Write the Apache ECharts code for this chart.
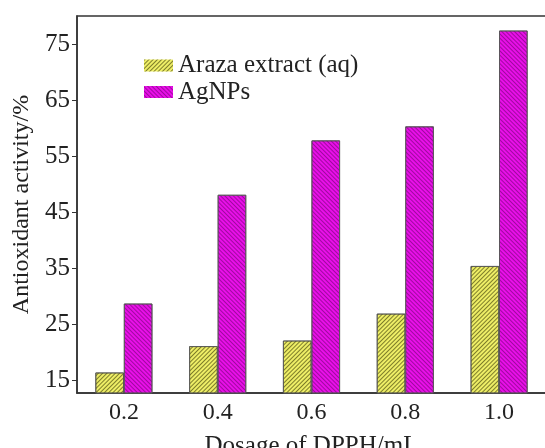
<!DOCTYPE html>
<html>
<head>
<meta charset="utf-8">
<script src="https://cdn.jsdelivr.net/npm/echarts@6/dist/echarts.min.js"></script>
<style>
  html, body { margin: 0; padding: 0; background: #fff; }
  #chart { width: 545px; height: 448px; }
</style>
</head>
<body>
<div id="chart"></div>
<script>
// dosage categories (mL)
const dosages = ['0.2', '0.4', '0.6', '0.8', '1.0']
// antioxidant activity, %
const arazaValues = [16.4, 21.1, 22.1, 26.9, 35.4]
const agnpValues = [28.7, 48.1, 57.8, 60.3, 77.4]
// y tick labels
const yTicks = [15, 25, 35, 45, 55, 65, 75]

const font = 'Liberation Serif'
const chart = echarts.init(document.getElementById('chart'))

// diagonal hatching drawn as decal
const hatch = (rot, color) => ({
    symbol: 'rect',
    symbolSize: 1,
    dashArrayX: [1, 0],
    dashArrayY: [1, 2],
    rotation: rot,
    color: color
})

const option = {
    animation: false,
    grid: {
        left: 77, top: 16, width: 469, height: 377,
        outerBoundsMode: 'none',
        containLabel: false,
        show: true, borderColor: '#333', borderWidth: 1.5
    },
    legend: {
        orient: 'vertical',
        left: 144, top: 53, padding: 0,
        icon: 'rect',
        itemWidth: 29, itemHeight: 12, itemGap: 1.5,
        itemStyle: { borderWidth: 0 },
        textStyle: { fontFamily: font, fontSize: 25, color: '#222', lineHeight: 22 },
        data: ['Araza extract (aq)', 'AgNPs']
    },
    xAxis: {
        type: 'category',
        data: dosages,
        name: 'Dosage of DPPH/mL',
        nameLocation: 'middle',
        nameGap: 41,
        nameTextStyle: { fontFamily: font, fontSize: 25, color: '#222' },
        axisLine: { lineStyle: { color: '#333', width: 1.5 } },
        axisTick: { show: false },
        axisLabel: { fontFamily: font, fontSize: 24, color: '#222', margin: 8 }
    },
    yAxis: {
        type: 'value',
        min: 12.75, max: 80,
        name: 'Antioxidant activity/%',
        nameLocation: 'middle',
        nameGap: 38,
        nameTextStyle: { fontFamily: font, fontSize: 24, color: '#222' },
        axisLine: { show: true, lineStyle: { color: '#333', width: 1.5 } },
        axisTick: { show: true, length: 5, customValues: yTicks, lineStyle: { color: '#333' } },
        axisLabel: { fontFamily: font, fontSize: 25, color: '#222', margin: 7, customValues: yTicks },
        splitLine: { show: false }
    },
    series: [
        {
            name: 'Araza extract (aq)',
            type: 'bar',
            data: arazaValues,
            barWidth: 28.5,
            barGap: '0%',
            itemStyle: {
                color: '#eeee66',
                borderColor: '#555',
                borderWidth: 0.8,
                decal: hatch(-Math.PI / 4, 'rgba(50,50,0,0.6)')
            }
        },
        {
            name: 'AgNPs',
            type: 'bar',
            data: agnpValues,
            barWidth: 28.5,
            barGap: '0%',
            itemStyle: {
                color: '#e810e8',
                borderColor: '#555',
                borderWidth: 0.8,
                decal: hatch(Math.PI / 4, 'rgba(90,0,90,0.5)')
            }
        }
    ]
}

chart.setOption(option)
</script>
</body>
</html>
